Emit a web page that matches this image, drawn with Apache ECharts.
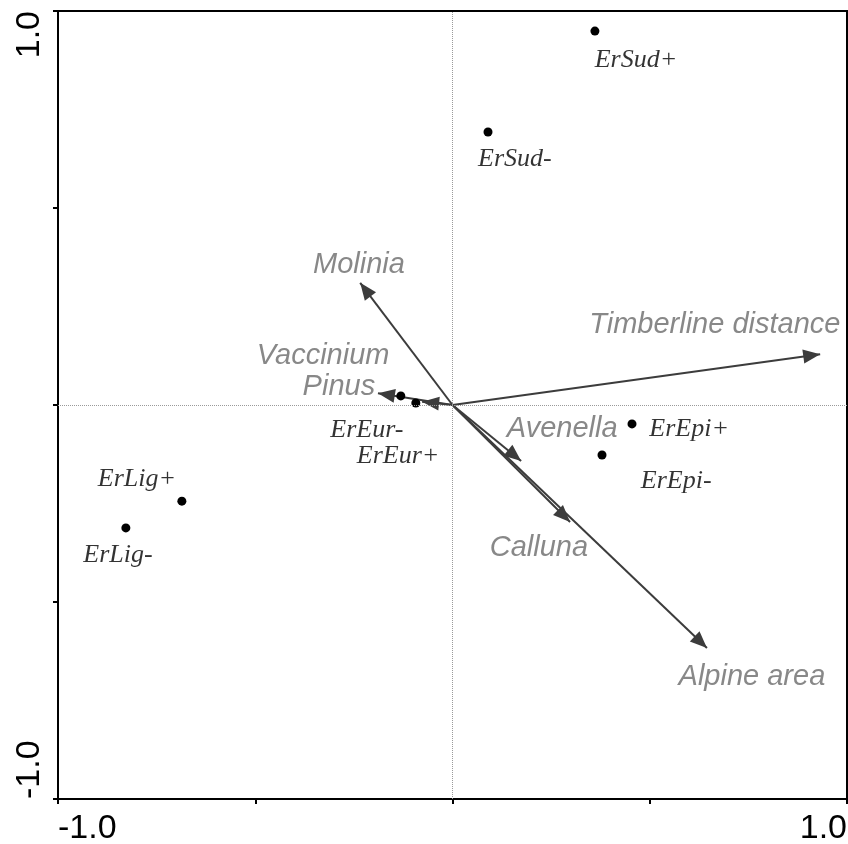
<!DOCTYPE html>
<html><head><meta charset="utf-8">
<script src="https://cdn.jsdelivr.net/npm/echarts@6.0.0/dist/echarts.min.js"></script>
<style>html,body{margin:0;padding:0;background:#fff}#c{width:848px;height:844px}</style>
</head><body><div id="c"></div>
<script>
// Samples (points)
const sampleNames = ['ErSud+', 'ErSud-', 'ErEur-', 'ErEur+', 'ErEpi+', 'ErEpi-', 'ErLig+', 'ErLig-'];
const sampleX = [0.361, 0.090, -0.131, -0.093, 0.455, 0.379, -0.686, -0.828];
const sampleY = [0.949, 0.693, 0.023, 0.005, -0.048, -0.127, -0.244, -0.312];
const sampleLabelX = [0.465, 0.158, -0.217, -0.138, 0.600, 0.567, -0.800, -0.848];
const sampleLabelY = [0.876, 0.624, -0.063, -0.129, -0.061, -0.193, -0.188, -0.381];

// Environmental variables (arrows)
const varNames = ['Molinia', 'Timberline distance', 'Vaccinium', 'Pinus', 'Avenella', 'Calluna', 'Alpine area'];
const varX = [-0.234, 0.932, -0.077, -0.189, 0.174, 0.298, 0.645];
const varY = [0.310, 0.129, 0.008, 0.030, -0.142, -0.297, -0.617];
const varLabelX = [-0.237, 0.665, -0.328, -0.288, 0.278, 0.219, 0.759];
const varLabelY = [0.355, 0.203, 0.124, 0.046, -0.061, -0.363, -0.690];

// Axis tick labels
const tickValues = [-1, 1];
const tickLabels = ['-1.0', '1.0'];

function fmt(v) {
  const i = tickValues.findIndex(t => Math.abs(t - v) < 1e-9);
  return i >= 0 ? tickLabels[i] : '';
}

// arrowhead whose tip sits at the centre of a square symbol box
const arrowHead = 'path://M0,0 M34,0 M34,34 M0,34 M17,17 L24,34 L10,34 Z';

const chart = echarts.init(document.getElementById('c'), null, { renderer: 'canvas' });

const axisCommon = {
  type: 'value', min: -1, max: 1, interval: 0.5,
  axisLine: { show: true, onZero: false, lineStyle: { color: '#000', width: 2 } },
  axisTick: { show: true, length: 5, lineStyle: { color: '#000', width: 2 } },
  splitLine: { show: false },
  axisLabel: {
    show: true, formatter: fmt, color: '#000', fontSize: 34,
    fontFamily: 'Liberation Sans, Arial, sans-serif',
    showMinLabel: true, showMaxLabel: true,
    alignMinLabel: 'left', alignMaxLabel: 'right'
  }
};

const option = {
  animation: false,
  backgroundColor: '#fff',
  grid: { left: 58, right: 1, top: 11, bottom: 45, show: true, borderColor: '#000', borderWidth: 2, containLabel: false, outerBoundsMode: 'none' },
  xAxis: Object.assign({}, axisCommon, { axisLabel: Object.assign({}, axisCommon.axisLabel, { margin: 13 }) }),
  yAxis: Object.assign({}, axisCommon, { axisLabel: Object.assign({}, axisCommon.axisLabel, { margin: 11, rotate: 90 }) }),
  series: [
    {
      type: 'scatter', name: 'ref', data: [], symbolSize: 0,
      markLine: {
        silent: true, symbol: 'none', label: { show: false },
        lineStyle: { type: 'dotted', color: '#9a9a9a', width: 1 },
        data: [{ xAxis: 0 }, { yAxis: 0 }]
      }
    },
    {
      type: 'lines', coordinateSystem: 'cartesian2d',
      symbol: ['none', arrowHead], symbolSize: [1, 34],
      itemStyle: { color: '#3c3c3c' },
      lineStyle: { color: '#3c3c3c', width: 2, opacity: 1 },
      data: varNames.map((n, i) => ({ name: n, coords: [[0, 0], [varX[i], varY[i]]] }))
    },
    {
      type: 'scatter', symbol: 'circle', symbolSize: 9,
      itemStyle: { color: '#000', opacity: 1 },
      data: sampleNames.map((n, i) => ({ name: n, value: [sampleX[i], sampleY[i]] }))
    },
    {
      type: 'scatter', symbol: 'circle', symbolSize: 1, silent: true,
      itemStyle: { color: 'rgba(0,0,0,0)' },
      label: {
        show: true, position: 'inside', formatter: p => p.name,
        color: '#000', fontSize: 26, fontStyle: 'italic',
        fontFamily: 'Liberation Serif, Times New Roman, serif'
      },
      data: sampleNames.map((n, i) => ({ name: n, value: [sampleLabelX[i], sampleLabelY[i]] }))
    },
    {
      type: 'scatter', symbol: 'circle', symbolSize: 1, silent: true,
      itemStyle: { color: 'rgba(0,0,0,0)' },
      label: {
        show: true, position: 'inside', formatter: p => p.name,
        color: '#6a6a6a', fontSize: 29, fontStyle: 'italic',
        fontFamily: 'Liberation Sans, Arial, sans-serif'
      },
      data: varNames.map((n, i) => ({ name: n, value: [varLabelX[i], varLabelY[i]] }))
    }
  ]
};
chart.setOption(option);
</script>
</body></html>
